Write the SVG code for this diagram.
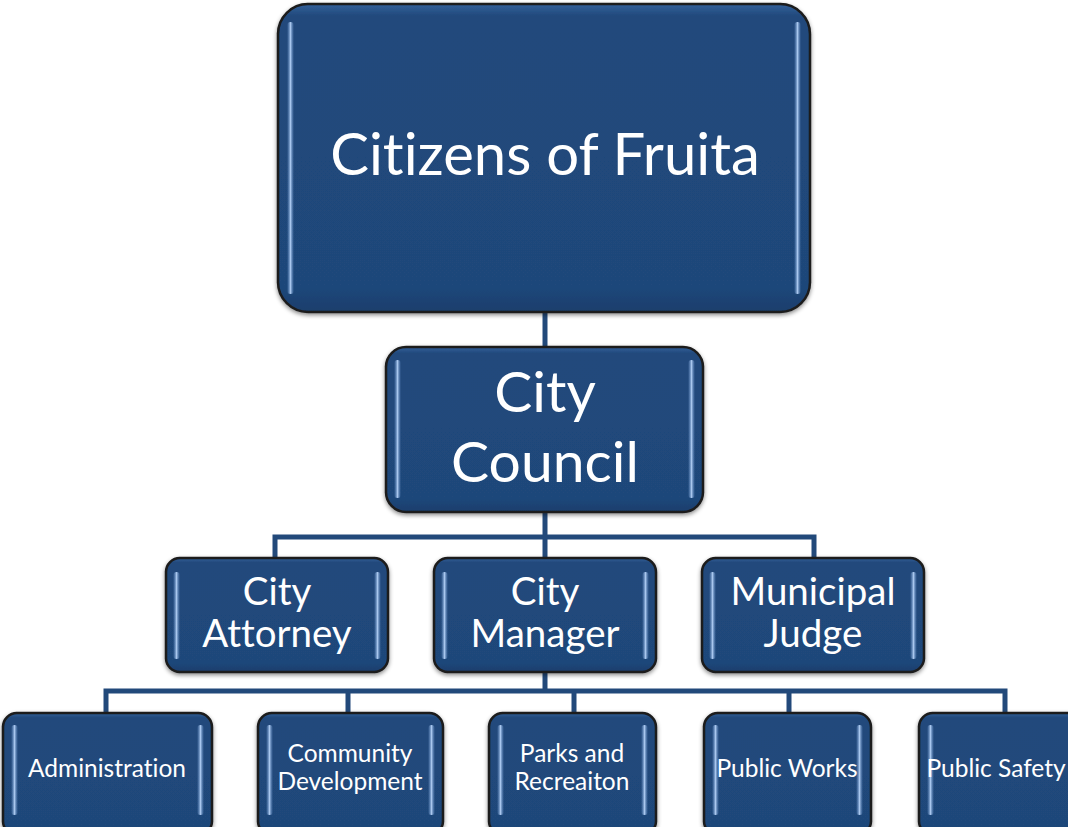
<svg xmlns="http://www.w3.org/2000/svg" width="1068" height="827" viewBox="0 0 1068 827">
<defs>
<linearGradient id="boxfill" x1="0" y1="0" x2="0" y2="1">
<stop offset="0" stop-color="#33609a"/>
<stop offset="0.04" stop-color="#21497b"/>
<stop offset="0.92" stop-color="#1f477a"/>
<stop offset="1" stop-color="#1a3e6c"/>
</linearGradient>
<linearGradient id="strip" x1="0" y1="0" x2="1" y2="0">
<stop offset="0" stop-color="#6f98cf" stop-opacity="0"/>
<stop offset="0.5" stop-color="#a9c7ee"/>
<stop offset="1" stop-color="#6f98cf" stop-opacity="0"/>
</linearGradient>
<filter id="shadow" x="-10%" y="-10%" width="120%" height="125%">
<feDropShadow dx="0" dy="2" stdDeviation="2" flood-color="#000" flood-opacity="0.45"/>
</filter>
</defs>
<style>
.box{fill:url(#boxfill);stroke:#1b1b1b;stroke-width:2.5;filter:url(#shadow)}
.strip{fill:url(#strip)}
.conn{fill:none;stroke:#22497a;stroke-width:5;stroke-linejoin:miter}
text{fill:#ffffff;font-family:Lato,"Open Sans","Liberation Sans",sans-serif;text-anchor:middle;font-variant-ligatures:none}
.t1{font-size:58px}
.t2{font-size:57px}
.t3{font-size:38.5px}
.t4{font-size:24.5px}
</style>
<rect width="1068" height="827" fill="#ffffff"/>
<g id="connectors">
<path class="conn" d="M545,312 V347"/>
<path class="conn" d="M545,512 V537 M275,558 V537 H814 V558 M545,537 V558"/>
<path class="conn" d="M545,672 V691 M106,713 V691 H1005 V713 M348,691 V713 M574,691 V713 M789,691 V713"/>
</g>
<g id="citizens">
<rect class="box" x="278" y="4" width="532" height="308" rx="30"/>
<rect class="strip" x="287" y="22" width="7" height="272" rx="3.5"/>
<rect class="strip" x="794" y="22" width="7" height="272" rx="3.5"/>
<text class="t1" x="545" y="175">Citizens of Fruita</text>
</g>
<g id="council">
<rect class="box" x="386" y="347" width="317" height="165" rx="20"/>
<rect class="strip" x="394" y="360" width="7" height="138" rx="3.5"/>
<rect class="strip" x="688" y="360" width="7" height="138" rx="3.5"/>
<text class="t2" x="545" y="412">City</text>
<text class="t2" x="545" y="482">Council</text>
</g>
<g id="attorney">
<rect class="box" x="166" y="558" width="222" height="114" rx="14"/>
<rect class="strip" x="173" y="572" width="7" height="87" rx="3.5"/>
<rect class="strip" x="374" y="572" width="7" height="87" rx="3.5"/>
<text class="t3" x="277" y="605">City</text>
<text class="t3" x="277" y="647">Attorney</text>
</g>
<g id="manager">
<rect class="box" x="434" y="558" width="222" height="114" rx="14"/>
<rect class="strip" x="441" y="572" width="7" height="87" rx="3.5"/>
<rect class="strip" x="642" y="572" width="7" height="87" rx="3.5"/>
<text class="t3" x="545" y="605">City</text>
<text class="t3" x="545" y="647">Manager</text>
</g>
<g id="judge">
<rect class="box" x="702" y="558" width="222" height="114" rx="14"/>
<rect class="strip" x="709" y="572" width="7" height="87" rx="3.5"/>
<rect class="strip" x="910" y="572" width="7" height="87" rx="3.5"/>
<text class="t3" x="813" y="605">Municipal</text>
<text class="t3" x="813" y="647">Judge</text>
</g>
<g id="administration">
<rect class="box" x="3" y="713" width="209" height="122" rx="14"/>
<rect class="strip" x="11" y="725" width="7" height="90" rx="3.5"/>
<rect class="strip" x="197" y="725" width="7" height="90" rx="3.5"/>
<text class="t4" x="107" y="777">Administration</text>
</g>
<g id="community">
<rect class="box" x="258" y="713" width="185" height="122" rx="14"/>
<rect class="strip" x="266" y="725" width="7" height="90" rx="3.5"/>
<rect class="strip" x="428" y="725" width="7" height="90" rx="3.5"/>
<text class="t4" x="350" y="762">Community</text>
<text class="t4" x="350" y="790">Development</text>
</g>
<g id="parks">
<rect class="box" x="489" y="713" width="167" height="122" rx="14"/>
<rect class="strip" x="497" y="725" width="7" height="90" rx="3.5"/>
<rect class="strip" x="641" y="725" width="7" height="90" rx="3.5"/>
<text class="t4" x="572" y="762">Parks and</text>
<text class="t4" x="572" y="790">Recreaiton</text>
</g>
<g id="publicworks">
<rect class="box" x="704" y="713" width="167" height="122" rx="14"/>
<rect class="strip" x="712" y="725" width="7" height="90" rx="3.5"/>
<rect class="strip" x="856" y="725" width="7" height="90" rx="3.5"/>
<text class="t4" x="787" y="777">Public Works</text>
</g>
<g id="publicsafety">
<rect class="box" x="919" y="713" width="170" height="122" rx="14"/>
<rect class="strip" x="927" y="725" width="7" height="90" rx="3.5"/>
<text class="t4" x="996" y="777">Public Safety</text>
</g>
</svg>
